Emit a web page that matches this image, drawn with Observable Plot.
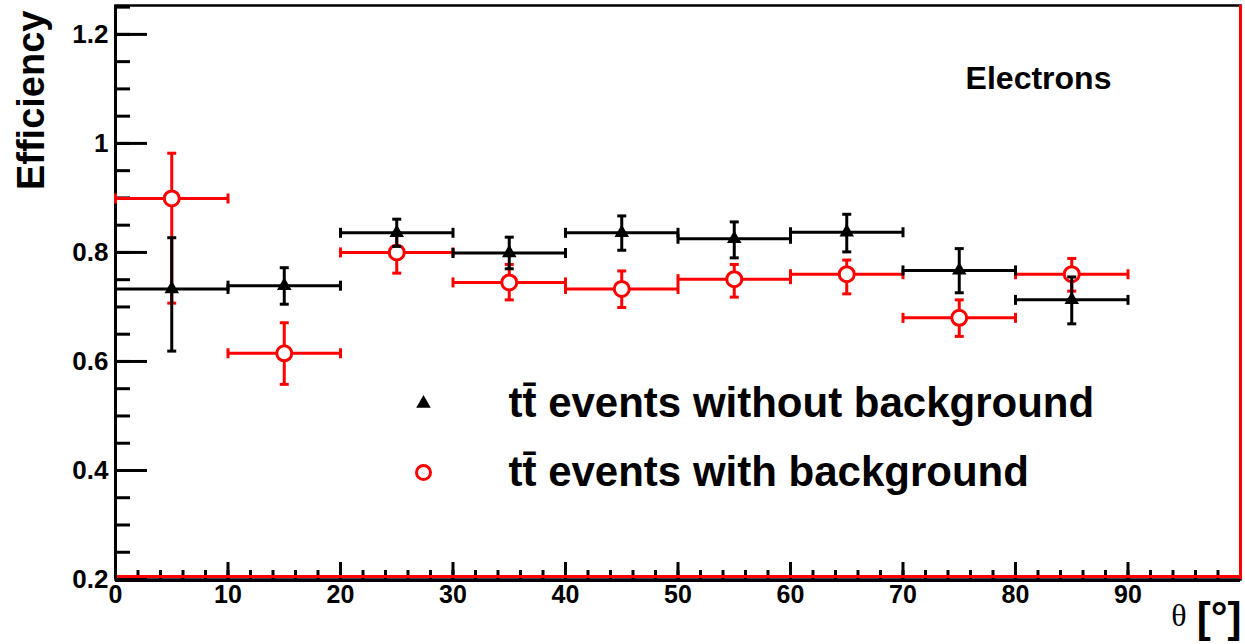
<!DOCTYPE html>
<html>
<head>
<meta charset="utf-8">
<script src="https://cdn.jsdelivr.net/npm/d3@7"></script>
<script src="https://cdn.jsdelivr.net/npm/@observablehq/plot@0.6"></script>
<style>
  html, body { margin: 0; padding: 0; background: #fff; }
  #chart svg { display: block; }
</style>
</head>
<body>
<div id="chart"></div>
<script>
// ---- data ----
const binCenters = [5, 15, 25, 35, 45, 55, 65, 75, 85];
const binHalfWidth = 5;

// tt events without background (black triangles)
const effNoBg   = [0.733, 0.739, 0.836, 0.799, 0.836, 0.825, 0.837, 0.767, 0.713];
const effNoBgLo = [0.619, 0.705, 0.811, 0.770, 0.804, 0.790, 0.801, 0.726, 0.669];
const effNoBgHi = [0.827, 0.772, 0.861, 0.828, 0.867, 0.856, 0.870, 0.807, 0.755];

// tt events with background (red open circles)
const effBg   = [0.899, 0.615, 0.800, 0.745, 0.733, 0.751, 0.760, 0.680, 0.760];
const effBgLo = [0.707, 0.558, 0.762, 0.713, 0.699, 0.718, 0.724, 0.646, 0.729];
const effBgHi = [0.982, 0.671, 0.833, 0.778, 0.766, 0.778, 0.786, 0.713, 0.789];

const xMajorTicks = [0, 10, 20, 30, 40, 50, 60, 70, 80, 90];
const xMinorTicks = d3.range(0, 101, 2);
const yMajorTicks = [0.2, 0.4, 0.6, 0.8, 1.0, 1.2];
const yMinorTicks = d3.range(0.2, 1.251, 0.05);

const legendLabels = ["tt\u0304 events without background", "tt\u0304 events with background"];
const panelLabel = "Electrons";
const yTitle = "Efficiency";

// ---- build tables ----
const mk = (eff, lo, hi) => binCenters.map((c, i) => ({
  x: c, xlo: c - binHalfWidth, xhi: c + binHalfWidth, eff: eff[i], lo: lo[i], hi: hi[i]
}));
const noBg = mk(effNoBg, effNoBgLo, effNoBgHi);
const withBg = mk(effBg, effBgLo, effBgHi);

// custom cap symbols (half-length = r)
const hCap = {draw(ctx, size) { const r = Math.sqrt(size / Math.PI); ctx.moveTo(-r, 0); ctx.lineTo(r, 0); }};
const vCap = {draw(ctx, size) { const r = Math.sqrt(size / Math.PI); ctx.moveTo(0, -r); ctx.lineTo(0, r); }};

const sans = "Liberation Sans, Arial, sans-serif";

function errorMarks(data, color) {
  return [
    Plot.ruleY(data, {y: "eff", x1: "xlo", x2: "xhi", stroke: color, strokeWidth: 3}),
    Plot.ruleX(data, {x: "x", y1: "lo", y2: "hi", stroke: color, strokeWidth: 3}),
    Plot.dot(data, {x: "xlo", y: "eff", symbol: vCap, r: 5, stroke: color, strokeWidth: 3}),
    Plot.dot(data, {x: "xhi", y: "eff", symbol: vCap, r: 5, stroke: color, strokeWidth: 3}),
    Plot.dot(data, {x: "x", y: "lo", symbol: hCap, r: 4.5, stroke: color, strokeWidth: 3}),
    Plot.dot(data, {x: "x", y: "hi", symbol: hCap, r: 4.5, stroke: color, strokeWidth: 3})
  ];
}

const legendMarks = [];
const legendSymbols = [
  {symbol: "triangle", r: 5.4, fill: "black", stroke: "none", strokeWidth: 0},
  {symbol: "circle", r: 7, fill: "white", stroke: "red", strokeWidth: 3}
];
legendLabels.forEach((lab, i) => {
  const s = legendSymbols[i];
  legendMarks.push(Plot.dot([lab], {frameAnchor: "top-left", dx: 308, dy: 398 + i * 69, ...s}));
  legendMarks.push(Plot.text([lab], {frameAnchor: "top-left", dx: 393, dy: 398 + i * 69,
    text: d => d, textAnchor: "start", lineAnchor: "middle", fontSize: 42, fontWeight: "bold",
    fontFamily: sans, fill: "black"}));
});

const chart = Plot.plot({
  width: 1245,
  height: 644,
  marginLeft: 115,
  marginRight: 5,
  marginTop: 5,
  marginBottom: 65,
  style: {background: "white", fontFamily: sans, color: "black"},
  x: {domain: [0, 100], label: null},
  y: {domain: [0.2, 1.253], label: null},
  marks: [
    // axes: tick marks (inward) and labels
    Plot.axisY({ticks: yMajorTicks, tickSize: -32, tickFormat: () => "", strokeWidth: 3, label: null}),
    Plot.axisY({ticks: yMinorTicks, tickSize: -15, tickFormat: () => "", strokeWidth: 3, label: null}),
    Plot.axisY({ticks: yMajorTicks, tickSize: 0, tickPadding: 7, tickFormat: d => String(+d.toFixed(1)),
      fontSize: 26, fontWeight: "bold", fontFamily: sans, label: null}),
    Plot.axisX({ticks: xMajorTicks, tickSize: -17, tickFormat: () => "", strokeWidth: 3, label: null}),
    Plot.axisX({ticks: xMinorTicks, tickSize: -9, tickFormat: () => "", strokeWidth: 3, label: null}),
    Plot.axisX({ticks: xMajorTicks, tickSize: 0, tickPadding: 6, tickFormat: d => String(d),
      fontSize: 25, fontWeight: "bold", fontFamily: sans, label: null}),
    Plot.frame({stroke: "black", strokeWidth: 2.5}),
    Plot.ruleX([100], {stroke: "red", strokeWidth: 3}),
    Plot.ruleY([0.2], {stroke: "red", strokeWidth: 3, dy: -3}),
    Plot.ruleY([0.2], {stroke: "black", strokeWidth: 3, dy: 1}),
    Plot.ruleX([0], {stroke: "black", strokeWidth: 3}),
    // data: with background (red) then without (black)
    ...errorMarks(withBg, "red"),
    Plot.dot(withBg, {x: "x", y: "eff", r: 7.5, fill: "white", stroke: "red", strokeWidth: 3}),
    ...errorMarks(noBg, "black"),
    Plot.dot(noBg, {x: "x", y: "eff", symbol: "triangle", r: 5.4, fill: "black"}),
    // texts
    Plot.text([panelLabel], {frameAnchor: "top-right", dx: -202, dy: 73, text: d => d,
      textAnchor: "middle", lineAnchor: "middle",
      fontSize: 32, fontWeight: "bold", fontFamily: sans, fill: "black"}),
    Plot.text([yTitle], {frameAnchor: "top-left", dx: -98, dy: 5, rotate: -90, textAnchor: "end",
      text: d => d, fontSize: 38, fontWeight: "bold", fontFamily: sans, fill: "black"}),
    Plot.text(["\u03B8"], {frameAnchor: "bottom-right", dx: -54, dy: 36, text: d => d,
      lineAnchor: "middle", fontSize: 32, fontFamily: "Liberation Serif, serif", fill: "black"}),
    Plot.text(["[\u00B0]"], {frameAnchor: "bottom-right", dx: 1, dy: 39, textAnchor: "end", text: d => d,
      lineAnchor: "middle", fontSize: 42, fontWeight: "bold", fontFamily: sans, fill: "black"}),
    ...legendMarks
  ]
});
document.getElementById("chart").appendChild(chart);
</script>
</body>
</html>
